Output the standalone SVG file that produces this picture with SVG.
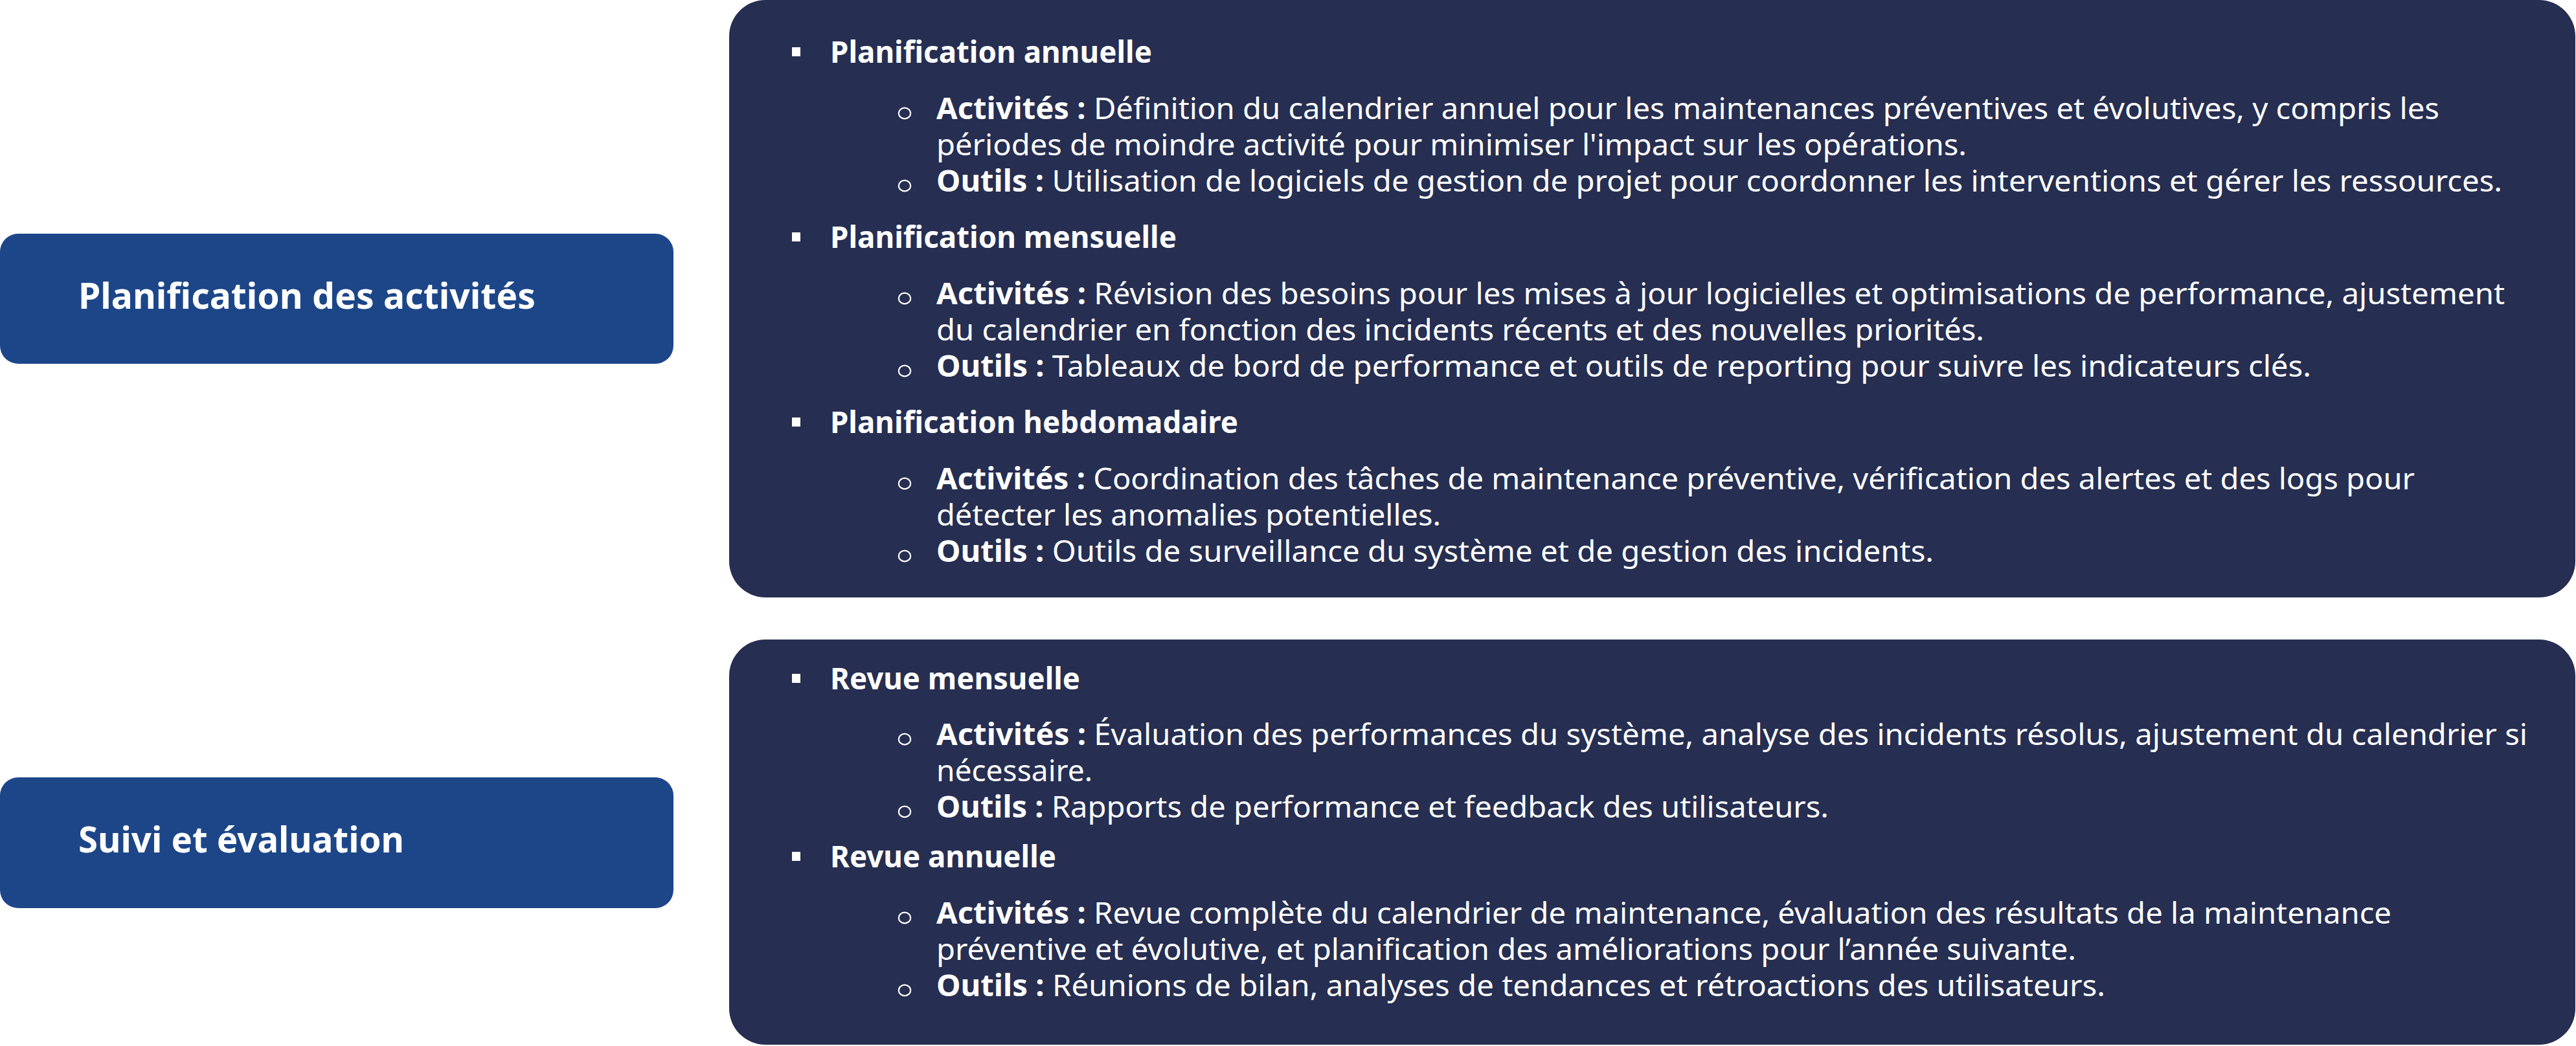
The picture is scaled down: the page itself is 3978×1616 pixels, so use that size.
<svg xmlns="http://www.w3.org/2000/svg" width="3978" height="1616" viewBox="0 0 3978 1616">
<style>
.lbl{fill:#1D4689}
.pnl{fill:#262E51}
text{font-family:"Noto Sans","Open Sans","DejaVu Sans",sans-serif;fill:#ffffff}
.t{font-size:56px;font-weight:700}
.h{font-size:46px;font-weight:700}
.s{font-size:46px;font-weight:400}
.b{font-weight:700}
.sq{fill:#ffffff}
.ci{fill:none;stroke:#ffffff;stroke-width:2.2}
</style>
<rect x="0" y="0" width="3978" height="1616" fill="#ffffff"/>

<g id="node-planification-des-activites">
<rect class="lbl" x="0" y="361" width="1040" height="201" rx="28" ry="28"/>
<text class="t" x="121" y="477" textLength="706" lengthAdjust="spacingAndGlyphs">Planification des activités</text>
</g>

<g id="node-suivi-et-evaluation">
<rect class="lbl" x="0" y="1201" width="1040" height="202" rx="28" ry="28"/>
<text class="t" x="121" y="1317" textLength="503" lengthAdjust="spacingAndGlyphs">Suivi et évaluation</text>
</g>

<g id="node-planification-details">
<rect class="pnl" x="1126" y="0" width="2851" height="923" rx="56" ry="56"/>

<rect class="sq" x="1223" y="73" width="13" height="14"/>
<text class="h" x="1282" y="97" textLength="497" lengthAdjust="spacingAndGlyphs">Planification annuelle</text>
<ellipse class="ci" cx="1397" cy="175" rx="9.2" ry="8.3"/>
<text class="s" x="1446" y="184" textLength="2321" lengthAdjust="spacingAndGlyphs"><tspan class="b">Activités :</tspan> Définition du calendrier annuel pour les maintenances préventives et évolutives, y compris les</text>
<text class="s" x="1446" y="240" textLength="1591" lengthAdjust="spacingAndGlyphs">périodes de moindre activité pour minimiser l'impact sur les opérations.</text>
<ellipse class="ci" cx="1397" cy="287" rx="9.2" ry="8.3"/>
<text class="s" x="1446" y="296" textLength="2418" lengthAdjust="spacingAndGlyphs"><tspan class="b">Outils :</tspan> Utilisation de logiciels de gestion de projet pour coordonner les interventions et gérer les ressources.</text>

<rect class="sq" x="1223" y="359" width="13" height="14"/>
<text class="h" x="1282" y="383" textLength="535" lengthAdjust="spacingAndGlyphs">Planification mensuelle</text>
<ellipse class="ci" cx="1397" cy="461" rx="9.2" ry="8.3"/>
<text class="s" x="1446" y="470" textLength="2422" lengthAdjust="spacingAndGlyphs"><tspan class="b">Activités :</tspan> Révision des besoins pour les mises à jour logicielles et optimisations de performance, ajustement</text>
<text class="s" x="1446" y="526" textLength="1618" lengthAdjust="spacingAndGlyphs">du calendrier en fonction des incidents récents et des nouvelles priorités.</text>
<ellipse class="ci" cx="1397" cy="573" rx="9.2" ry="8.3"/>
<text class="s" x="1446" y="582" textLength="2123" lengthAdjust="spacingAndGlyphs"><tspan class="b">Outils :</tspan> Tableaux de bord de performance et outils de reporting pour suivre les indicateurs clés.</text>

<rect class="sq" x="1223" y="645" width="13" height="14"/>
<text class="h" x="1282" y="669" textLength="630" lengthAdjust="spacingAndGlyphs">Planification hebdomadaire</text>
<ellipse class="ci" cx="1397" cy="747" rx="9.2" ry="8.3"/>
<text class="s" x="1446" y="756" textLength="2283" lengthAdjust="spacingAndGlyphs"><tspan class="b">Activités :</tspan> Coordination des tâches de maintenance préventive, vérification des alertes et des logs pour</text>
<text class="s" x="1446" y="812" textLength="779" lengthAdjust="spacingAndGlyphs">détecter les anomalies potentielles.</text>
<ellipse class="ci" cx="1397" cy="859" rx="9.2" ry="8.3"/>
<text class="s" x="1446" y="868" textLength="1540" lengthAdjust="spacingAndGlyphs"><tspan class="b">Outils :</tspan> Outils de surveillance du système et de gestion des incidents.</text>
</g>

<g id="node-suivi-details">
<rect class="pnl" x="1126" y="988" width="2851" height="626" rx="56" ry="56"/>

<rect class="sq" x="1223" y="1041" width="13" height="14"/>
<text class="h" x="1282" y="1065" textLength="386" lengthAdjust="spacingAndGlyphs">Revue mensuelle</text>
<ellipse class="ci" cx="1397" cy="1142" rx="9.2" ry="8.3"/>
<text class="s" x="1446" y="1151" textLength="2457" lengthAdjust="spacingAndGlyphs"><tspan class="b">Activités :</tspan> Évaluation des performances du système, analyse des incidents résolus, ajustement du calendrier si</text>
<text class="s" x="1446" y="1207" textLength="241" lengthAdjust="spacingAndGlyphs">nécessaire.</text>
<ellipse class="ci" cx="1397" cy="1254" rx="9.2" ry="8.3"/>
<text class="s" x="1446" y="1263" textLength="1378" lengthAdjust="spacingAndGlyphs"><tspan class="b">Outils :</tspan> Rapports de performance et feedback des utilisateurs.</text>

<rect class="sq" x="1223" y="1316" width="13" height="14"/>
<text class="h" x="1282" y="1340" textLength="349" lengthAdjust="spacingAndGlyphs">Revue annuelle</text>
<ellipse class="ci" cx="1397" cy="1418" rx="9.2" ry="8.3"/>
<text class="s" x="1446" y="1427" textLength="2247" lengthAdjust="spacingAndGlyphs"><tspan class="b">Activités :</tspan> Revue complète du calendrier de maintenance, évaluation des résultats de la maintenance</text>
<text class="s" x="1446" y="1483" textLength="1760" lengthAdjust="spacingAndGlyphs">préventive et évolutive, et planification des améliorations pour l’année suivante.</text>
<ellipse class="ci" cx="1397" cy="1530" rx="9.2" ry="8.3"/>
<text class="s" x="1446" y="1539" textLength="1805" lengthAdjust="spacingAndGlyphs"><tspan class="b">Outils :</tspan> Réunions de bilan, analyses de tendances et rétroactions des utilisateurs.</text>
</g>

<g id="connectors"></g>
</svg>
